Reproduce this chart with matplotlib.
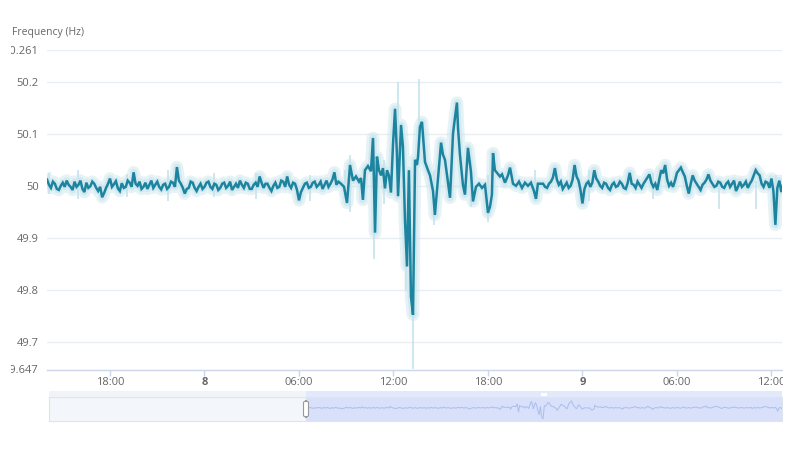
import numpy as np
import matplotlib
matplotlib.use("Agg")
import matplotlib.pyplot as plt
from matplotlib.patches import Rectangle, FancyBboxPatch

plt.rcParams['font.family'] = ['Open Sans', 'DejaVu Sans']

# ---------------- data (hours after day 7, 14:00) ----------------
quiet_a_start, quiet_a_step = 0.0, 0.125
quiet_a = [50.012, 50.002, 49.996, 50.008, 50.004, 49.994, 49.992, 50.000, 50.006, 49.998,
           50.010, 50.002, 49.998, 49.992, 50.008, 49.998, 50.002, 50.010, 49.994, 49.988,
           50.006, 49.996, 49.999, 50.008, 50.004, 49.996, 49.990, 49.998, 49.978, 49.986,
           49.996, 50.004, 50.014, 49.998, 50.003, 50.009, 49.995, 49.990, 50.005, 49.996,
           49.998, 50.010, 50.006, 49.998, 50.026, 50.004, 50.000, 50.008, 49.994, 49.998,
           50.006, 49.994, 50.002, 50.010, 49.996, 50.002, 50.008, 49.998, 49.993, 50.002,
           50.004, 49.994, 49.998, 50.008, 50.006, 49.998, 50.036, 50.010, 50.004, 49.996,
           49.985, 49.994, 49.996, 50.008, 50.006, 49.996, 49.990, 49.998, 50.004, 49.994,
           49.998, 50.006, 50.008, 49.998, 49.994, 50.004, 50.002, 49.992, 49.996, 50.004,
           50.006, 49.996, 50.000, 50.008, 49.992, 49.998, 50.004, 49.996, 50.010, 50.002,
           49.996, 50.006, 50.004, 49.994, 49.994, 50.002, 50.006, 49.998, 50.018, 50.006,
           49.996, 50.004, 50.004, 49.996, 49.990, 50.000, 50.006, 49.996, 49.998, 50.010,
           50.008, 49.998, 50.018, 50.002, 49.996, 50.006, 50.004, 49.992, 49.972, 49.988,
           49.996, 50.004, 50.006, 49.996, 49.998, 50.006, 50.008, 49.998, 50.002, 50.008,
           49.994, 50.002, 50.010, 49.998, 50.004, 50.012, 50.026, 50.002, 50.008]

event_hours = [18.67, 18.86, 19.05, 19.24, 19.43, 19.62, 19.81, 19.94, 20.06, 20.19,
               20.38, 20.57, 20.70, 20.83, 20.95, 21.08, 21.21, 21.33, 21.46, 21.59,
               21.71, 21.84, 21.97, 22.10, 22.22, 22.29, 22.48, 22.60, 22.73, 22.86,
               22.98, 23.11, 23.24, 23.37, 23.49, 23.56, 23.68, 23.81, 24.00, 24.19,
               24.32, 24.51, 24.63, 24.83, 25.02, 25.14, 25.27, 25.40, 25.59, 25.78,
               25.90, 26.03, 26.10, 26.22, 26.41, 26.54, 26.73, 26.92, 27.05, 27.24,
               27.43, 27.62, 27.81, 28.00, 28.13, 28.25, 28.32, 28.44, 28.57, 28.76,
               28.89, 29.08, 29.27, 29.40, 29.59, 29.78, 29.97, 30.16, 30.35, 30.54,
               30.73, 30.92, 31.05, 31.17]
event_vals = [50.004, 49.998, 49.967, 50.040, 50.010, 50.018, 50.008, 50.015, 49.973, 50.030,
              50.038, 50.028, 50.092, 49.910, 50.056, 50.030, 50.020, 50.034, 49.995, 50.030,
              50.020, 49.987, 50.080, 50.148, 50.060, 49.980, 50.117, 50.075, 49.935, 49.845,
              50.030, 49.787, 49.752, 50.050, 50.040, 50.056, 50.113, 50.123, 50.046, 50.030,
              50.020, 49.990, 49.944, 50.015, 50.083, 50.060, 50.050, 50.020, 49.977, 50.100,
              50.130, 50.160, 50.110, 50.060, 50.002, 49.983, 50.073, 50.027, 49.970, 49.998,
              50.004, 49.996, 50.002, 49.948, 49.960, 49.983, 50.063, 50.030, 50.025, 50.018,
              50.022, 50.006, 50.020, 50.035, 50.004, 50.000, 50.008, 49.996, 50.006, 50.000,
              50.006, 49.990, 49.975, 50.004]

quiet_b_start, quiet_b_step = 31.5, 0.125
quiet_b = [50.004, 49.998, 49.996, 50.004, 50.008, 50.016, 50.034, 50.012, 50.002, 50.008,
           49.994, 50.000, 50.006, 49.996, 50.000, 50.012, 50.040, 50.018, 50.010, 49.992,
           49.966, 49.994, 50.004, 50.008, 49.998, 50.006, 50.030, 50.014, 50.008, 50.000,
           49.996, 50.006, 50.004, 49.996, 49.992, 50.002, 50.006, 49.998, 50.000, 50.008,
           50.004, 49.996, 49.994, 50.006, 50.025, 50.004, 50.002, 49.996, 50.008, 50.002,
           49.996, 50.004, 50.010, 50.016, 50.022, 50.006, 49.998, 50.004, 49.992, 50.012,
           50.030, 50.024, 50.040, 50.012, 50.000, 50.006, 49.998, 50.010, 50.025, 50.030,
           50.035, 50.026, 50.018, 50.000, 49.985, 50.004, 50.020, 50.010, 50.004, 49.998,
           49.992, 50.002, 50.006, 50.012, 50.022, 50.010, 50.004, 49.998, 50.000, 50.008,
           50.006, 49.998, 49.996, 50.004, 50.008, 49.998, 50.004, 50.010, 49.990, 49.998,
           50.008, 49.998, 50.002, 50.008, 49.996, 50.004, 50.010, 50.020, 50.030, 50.024,
           50.020, 50.004, 49.998, 50.008, 50.006, 49.996, 50.014, 49.990, 49.925, 49.996,
           50.010, 49.988, 50.004]

# light raw-data envelope spikes (hour, low, high)
spike_hours = [0.1, 2.0, 5.1, 7.7, 10.6, 13.3, 16.7, 18.9, 19.24, 20.76, 21.4, 22.29, 22.80,
               23.24, 23.62, 24.6, 26.9, 28.0, 31.0, 34.4, 38.5, 42.7, 45.0, 46.3]
spike_lo = [49.985, 49.975, 49.978, 49.970, 49.978, 49.975, 49.970, 49.975, 49.950, 49.860,
            49.965, 49.980, 49.800, 49.647, 50.050, 49.925, 49.960, 49.930, 49.970, 49.970,
            49.975, 49.955, 49.955, 49.920]
spike_hi = [50.025, 50.030, 50.022, 50.030, 50.024, 50.025, 50.020, 50.030, 50.060, 50.090,
            50.050, 50.200, 49.950, 49.760, 50.205, 50.030, 50.050, 50.020, 50.030, 50.030,
            50.025, 50.010, 50.010, 50.020]

y_ticks = [49.647, 49.7, 49.8, 49.9, 50.0, 50.1, 50.2, 50.261]
y_labels = ["49.647", "49.7", "49.8", "49.9", "50", "50.1", "50.2", "50.261"]
x_ticks = [4, 10, 16, 22, 28, 34, 40, 46]
x_labels = ["18:00", "8", "06:00", "12:00", "18:00", "9", "06:00", "12:00"]
x_end = 46.67
nav_start = -25.2

# ---------------- assemble series ----------------
hours = np.concatenate([
    quiet_a_start + quiet_a_step * np.arange(len(quiet_a)),
    np.array(event_hours),
    quiet_b_start + quiet_b_step * np.arange(len(quiet_b)),
])
freq = np.concatenate([quiet_a, event_vals, quiet_b])

W, H = 800, 450
fig = plt.figure(figsize=(8, 4.5), dpi=100)

def fx(px):
    return px / W

def fy(py):
    return 1 - py / H

line_c = '#1d84a0'
band_c = '#c6e3ec'
lab_c = '#666666'

ax = fig.add_axes([fx(47), fy(369.5), fx(782) - fx(47), fy(50) - fy(369.5)])
ax.set_xlim(0, x_end)
ax.set_ylim(49.647, 50.261)
for s in ['top', 'right', 'left']:
    ax.spines[s].set_visible(False)
ax.spines['bottom'].set_color('#ccd6eb')
ax.spines['bottom'].set_linewidth(1)

ax.set_yticks(y_ticks)
ax.set_yticklabels(y_labels)
ax.tick_params(axis='y', length=0, pad=6, labelsize=8, labelcolor=lab_c)
ax.set_xticks(x_ticks)
ax.set_xticklabels(x_labels)
ax.tick_params(axis='x', length=4, width=1, color='#ccd6eb', pad=1.5, labelsize=8, labelcolor=lab_c)
for t, lab in zip(ax.get_xticklabels(), x_labels):
    if lab in ("8", "9"):
        t.set_fontweight('bold')
for yv in y_ticks[1:]:
    ax.axhline(yv, color='#e9eef2', lw=1, zorder=0)

ax.vlines(spike_hours, spike_lo, spike_hi, color=band_c, lw=1.2, zorder=1)
ax.plot(hours, freq, color=band_c, lw=9, alpha=0.45, solid_joinstyle='round', zorder=2)
ax.plot(hours, freq, color=band_c, lw=5, alpha=0.6, solid_joinstyle='round', zorder=2)
ax.plot(hours, freq, color=line_c, lw=1.8, solid_joinstyle='miter', zorder=3)

fig.text(fx(12), fy(32), "Frequency (Hz)", fontsize=7.5, color=lab_c, va='center', ha='left')

# ---------------- navigator ----------------
nav = fig.add_axes([fx(49), fy(421), fx(782) - fx(49), fy(397) - fy(421)])
nav.set_xlim(nav_start, x_end)
nav.set_ylim(49.70, 50.25)
nav.set_xticks([])
nav.set_yticks([])
for s in nav.spines.values():
    s.set_color('#dde4ee')
nav.set_facecolor('#f3f6fa')
nav.axvspan(0, x_end, color='#d8e1f9', zorder=0)
nav.plot(hours, freq, color='#a9bdef', lw=0.7, zorder=2)

# scrollbar strip above navigator
fig.patches.append(Rectangle((fx(49), fy(397)), fx(782) - fx(49), fy(391) - fy(397),
                             transform=fig.transFigure, facecolor='#f0f3f8', edgecolor='none'))
fig.patches.append(Rectangle((fx(306), fy(397)), fx(782) - fx(306), fy(391) - fy(397),
                             transform=fig.transFigure, facecolor='#e2e9fb', edgecolor='none'))
fig.patches.append(Rectangle((fx(541), fy(395.5)), fx(6), fy(393) - fy(395.5),
                             transform=fig.transFigure, facecolor='#ffffff', edgecolor='none'))
# left handle
fig.patches.append(FancyBboxPatch((fx(303.5), fy(417)), fx(5), fy(401) - fy(417),
                                  boxstyle='round,pad=0,rounding_size=0.004',
                                  transform=fig.transFigure, facecolor='#ffffff',
                                  edgecolor='#999999', lw=0.8, zorder=5))

# crop edges like the reference
fig.patches.append(Rectangle((fx(783), 0), fx(17), 1, transform=fig.transFigure,
                             facecolor='white', edgecolor='none', zorder=100))
fig.patches.append(Rectangle((0, 0), fx(10.5), 1, transform=fig.transFigure,
                             facecolor='white', edgecolor='none', zorder=100))

fig.savefig('out.png', dpi=100)
